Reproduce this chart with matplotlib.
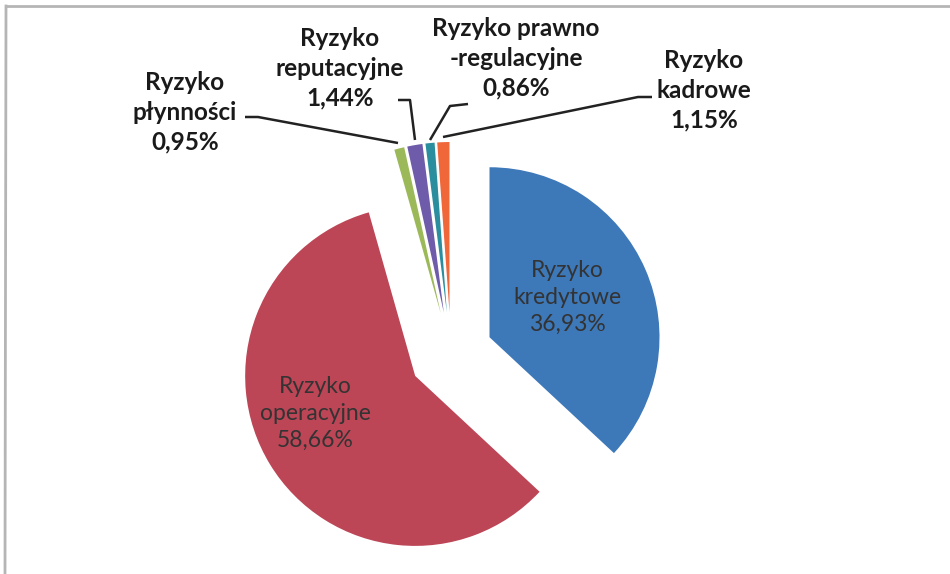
import matplotlib
matplotlib.use("Agg")
import matplotlib.pyplot as plt

# ---- data ----
categories = ["Ryzyko\nkredytowe", "Ryzyko\noperacyjne", "Ryzyko\npłynności",
              "Ryzyko\nreputacyjne", "Ryzyko prawno\n-regulacyjne", "Ryzyko\nkadrowe"]
values = [36.93, 58.66, 0.95, 1.44, 0.86, 1.15]
colors = ["#3D78B9", "#BC4556", "#9CB95A", "#6E5BAA", "#2A8E9E", "#F0673A"]

W, H = 950, 574
fig = plt.figure(figsize=(W / 100, H / 100), dpi=100)
ax = fig.add_axes([0, 0, 1, 1])

def Y(p):
    return H - p

cx, cy, r, ex = 451, Y(354), 170, 42
ax.pie(values, colors=colors, startangle=90, counterclock=False,
       explode=[ex] * len(values), radius=r, center=(cx, cy),
       wedgeprops=dict(linewidth=0))
ax.set_xlim(0, W)
ax.set_ylim(0, H)
ax.set_aspect("auto")
ax.axis("off")

def fmt(v):
    return f"{v:.2f}%".replace(".", ",")

labels = [f"{c}\n{fmt(v)}" for c, v in zip(categories, values)]

font = "Lato"
# inside labels
inside_pos = [(567, 297), (315, 413)]
for i, (x, y) in enumerate(inside_pos):
    ax.text(x, Y(y), labels[i], ha="center", va="center", fontsize=16.5,
            color="#333333", family=font, linespacing=1.35)

# outside labels
outside_pos = [(185, 112), (340, 68), (516, 58), (704, 90)]
for i, (x, y) in zip(range(2, 6), outside_pos):
    ax.text(x, Y(y), labels[i], ha="center", va="center", fontsize=17.5,
            color="#1a1a1a", family=font, fontweight="bold", linespacing=1.35)

# leader lines
leaders = [
    [(245, 117), (258, 117), (398, 143)],
    [(398, 100), (410, 100), (415, 140)],
    [(468, 104), (450, 106), (430, 140)],
    [(652, 97), (638, 97), (443, 137)],
]
for pts in leaders:
    xs = [p[0] for p in pts]
    ys = [Y(p[1]) for p in pts]
    ax.plot(xs, ys, color="#222222", lw=1.8, solid_capstyle="butt")

# frame lines (top and left)
ax.plot([7, W], [Y(6), Y(6)], color="#b5b5b5", lw=2)
ax.plot([6, 5], [Y(6), 0], color="#b5b5b5", lw=2)

fig.savefig("out.png", dpi=100)
